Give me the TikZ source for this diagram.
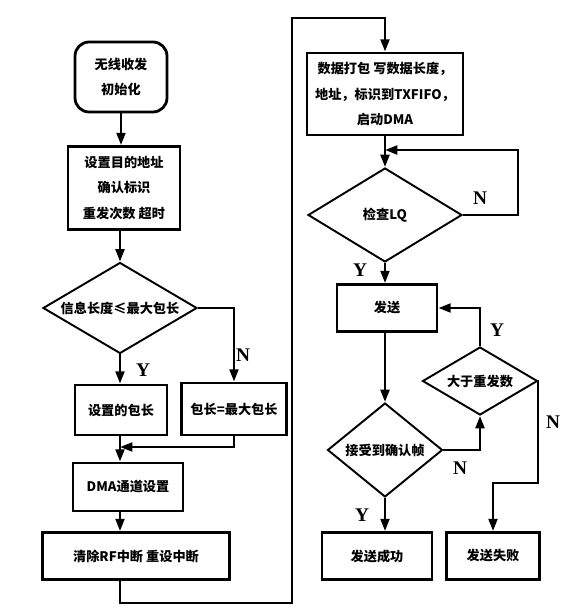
\documentclass[tikz,border=0pt]{standalone}
\usepackage{fontspec}
\setmainfont{Liberation Serif}
\newfontfamily\cjk{Noto Sans CJK SC}
\usetikzlibrary{shapes.geometric,arrows.meta}

\begin{document}
\begin{tikzpicture}[x=0.02cm, y=-0.02cm, line width=1.5pt,
  every node/.style={font=\cjk\bfseries\fontsize{7.5}{14.5}\selectfont, align=center, inner sep=1pt},
  box/.style={rectangle, draw, line width=1.6pt},
  dia/.style={diamond, draw, line width=1.1pt, shape aspect=1.7},
  lab/.style={font=\bfseries\fontsize{11}{12}\selectfont},
  arr/.style={-{Triangle[length=7pt,width=5pt]}}]
  \useasboundingbox (0,0) rectangle (563,614);

  \node[box, rounded corners=8pt, minimum width=1.84cm, minimum height=1.4cm] (start) at (121,77) {无线收发\\初始化};
  \node[box, minimum width=2.24cm, minimum height=1.66cm] (addr) at (124,188) {设置目的地址\\确认标识\\重发次数 超时};
  \node[dia, minimum width=3.08cm, minimum height=1.82cm] (cmp) at (120,308) {信息长度≤最大包长};
  \node[box, minimum width=1.84cm, minimum height=1cm] (setlen) at (121,410) {设置的包长};
  \node[box, minimum width=2.1cm, minimum height=1.04cm] (maxlen) at (234,409) {包长=最大包长};
  \node[box, minimum width=2.2cm, minimum height=0.96cm] (dma) at (128,487) {DMA通道设置};
  \node[box, minimum width=3.74cm, minimum height=0.94cm] (clr) at (136,556) {清除RF中断 重设中断};

  \node[box, minimum width=3.12cm, minimum height=1.64cm] (pack) at (385,94) {数据打包 写数据长度，\\地址，标识到TXFIFO，\\启动DMA};
  \node[dia, minimum width=3.08cm, minimum height=1.88cm] (lq) at (385,215) {检查LQ};
  \node[box, minimum width=2cm, minimum height=0.94cm] (send) at (387,308) {发送};
  \node[dia, shape aspect=1.22, minimum width=2.3cm, minimum height=1.88cm] (ack) at (385,450) {接受到确认帧};
  \node[dia, minimum width=2.3cm, minimum height=1.36cm] (retry) at (480,381) {大于重发数};
  \node[box, minimum width=2.2cm, minimum height=0.94cm] (ok) at (377,556) {发送成功};
  \node[box, minimum width=1.86cm, minimum height=0.94cm] (fail) at (493,556) {发送失败};

  \node[lab] (y1) at (143,370) {Y};
  \node[lab] (n1) at (243,355) {N};
  \node[lab] (n2) at (480,198) {N};
  \node[lab] (y2) at (360,270) {Y};
  \node[lab] (y3) at (497,330) {Y};
  \node[lab] (n3) at (553,422) {N};
  \node[lab] (n4) at (460,468) {N};
  \node[lab] (y4) at (362,515) {Y};

  \coordinate (m1) at (120,447);
  \coordinate (lb) at (292,603);
  \coordinate (lt) at (292,18);
  \coordinate (lqr) at (518,150);
  \coordinate (rn) at (538,483);

  % left column
  \draw[arr] (start.south) -- (start.south |- addr.north);
  \draw[arr] (cmp.north |- addr.south) -- (cmp.north);
  \draw[arr] (cmp.south) -- (cmp.south |- setlen.north);
  \draw[arr] (cmp.east) -| (maxlen.north);
  \draw[arr] (cmp.south |- setlen.south) -- (cmp.south |- dma.north);
  \draw[arr] (maxlen.south) |- (m1);
  \draw[arr] (cmp.south |- dma.south) -- (cmp.south |- clr.north);
  \draw[arr] (clr.south -| cmp.south) |- (lb) -- (lt) -| (pack.north);

  % right column
  \draw[arr] (pack.south) -- (lq.north);
  \draw[arr] (lq.east) -| (lqr) -- (lqr -| lq.north);
  \draw[arr] (lq.south) -- (lq.south |- send.north);
  \draw[arr] (ack.north |- send.south) -- (ack.north);
  \draw[arr] (ack.east) -| (retry.south);
  \draw[arr] (retry.north) |- (send.east);
  \draw[arr] (retry.east) -| (rn) -| (fail.north);
  \draw[arr] (ack.south) -- (ack.south |- ok.north);
\end{tikzpicture}
\end{document}
